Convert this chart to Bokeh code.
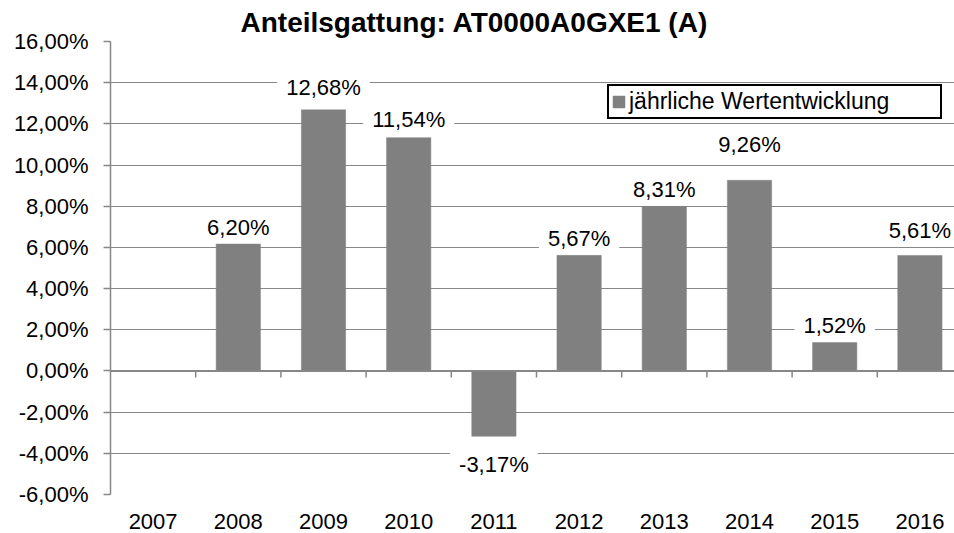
from bokeh.plotting import figure
from bokeh.models import Range1d, FixedTicker, Span, Legend, LegendItem, ColumnDataSource
from bokeh.core.properties import value
from bokeh.embed import file_html
from bokeh.resources import INLINE

# ---------------- data ----------------
years = ["2007", "2008", "2009", "2010", "2011", "2012", "2013", "2014", "2015", "2016"]
bar_values = [None, 6.20, 12.68, 11.33, -3.17, 5.62, 8.00, 9.26, 1.38, 5.61]
label_values = [None, 6.20, 12.68, 11.54, -3.17, 5.67, 8.31, 9.26, 1.52, 5.61]
y_ticks = [-6, -4, -2, 0, 2, 4, 6, 8, 10, 12, 14, 16]
title_text = "Anteilsgattung: AT0000A0GXE1 (A)"
legend_text = "jährliche Wertentwicklung"

# ---------------- style ----------------
W, H = 954, 533
LEFT, TOP, BOTTOM = 110, 41, 39
FONT = "Liberation Sans"
GRID = "#878787"
BAR = "#808080"
label_lift_px = [0, 16, 22, 18, -28, 17, 17, 36, 17, 25]   # label centre distance from bar end

frame_h = H - TOP - BOTTOM
px_per_pct = frame_h / (y_ticks[-1] - y_ticks[0])

idx = list(range(len(years)))

def fmt(v):
    return f"{v:.2f}".replace(".", ",") + "%"

bar_src = ColumnDataSource(dict(
    x=[i for i, v in zip(idx, bar_values) if v is not None],
    top=[v for v in bar_values if v is not None],
))

lab_x, lab_y, lab_t = [], [], []
for i, bv, lv, lift in zip(idx, bar_values, label_values, label_lift_px):
    if lv is None:
        continue
    lab_x.append(i)
    lab_y.append(bv + lift / px_per_pct)
    lab_t.append(fmt(lv))
lab_src = ColumnDataSource(dict(x=lab_x, y=lab_y, text=lab_t))

p = figure(width=W, height=H,
           x_range=Range1d(-0.5, 9.406), y_range=Range1d(y_ticks[0], y_ticks[-1]),
           output_backend="svg", toolbar_location=None,
           min_border_left=LEFT, min_border_right=0,
           min_border_top=TOP, min_border_bottom=BOTTOM)
p.outline_line_color = None
p.background_fill_color = "white"
p.border_fill_color = "white"

# title
p.title.text = title_text
p.title.text_font = FONT
p.title.text_font_style = "bold"
p.title.text_font_size = "28px"
p.title.text_color = "black"
p.title.align = "left"
p.title.offset = 130
p.title.standoff = 7

# grid
p.xgrid.visible = False
p.ygrid.ticker = FixedTicker(ticks=y_ticks)
p.ygrid.grid_line_color = GRID
p.ygrid.grid_line_width = 1

# y axis
ya = p.yaxis[0]
ya.ticker = FixedTicker(ticks=y_ticks)
ya.major_label_overrides = {t: fmt(t) for t in y_ticks}
ya.axis_line_color = GRID
ya.axis_line_width = 1.5
ya.major_tick_out = 7
ya.major_tick_in = 0
ya.major_tick_line_color = GRID
ya.major_tick_line_width = 1.5
ya.minor_tick_line_color = None
ya.major_label_standoff = 15
ya.major_label_text_font = FONT
ya.major_label_text_font_size = "22px"
ya.major_label_text_color = "black"

# x axis (labels only; category axis line drawn at zero)
xa = p.xaxis[0]
xa.ticker = FixedTicker(ticks=idx)
xa.major_label_overrides = {i: y for i, y in zip(idx, years)}
xa.axis_line_color = None
xa.major_tick_line_color = None
xa.minor_tick_line_color = None
xa.major_label_standoff = 13
xa.major_label_text_font = FONT
xa.major_label_text_font_size = "22px"
xa.major_label_text_color = "black"

# bars
bars = p.vbar(x="x", top="top", width=0.52, source=bar_src,
              fill_color=BAR, line_color=BAR, line_width=0.5)

# zero line with category tick marks
p.add_layout(Span(location=0, dimension="width", line_color=GRID, line_width=2))
bounds = [i + 0.5 for i in idx[:-1]]
tick_len = 6.5 / px_per_pct
p.segment(x0=bounds, y0=[0] * len(bounds), x1=bounds, y1=[-tick_len] * len(bounds),
          line_color=GRID, line_width=1.5)

# data labels
p.text(x="x", y="y", text="text", source=lab_src,
       text_align="center", text_baseline="middle",
       text_font=value(FONT), text_font_size=value("22px"), text_color="black",
       background_fill_color="white", padding=(9, 4))

# legend
legend = Legend(items=[LegendItem(label=legend_text, renderers=[bars])],
                location=(497, 375))
legend.border_line_color = "black"
legend.border_line_alpha = 1
legend.border_line_width = 2
legend.background_fill_color = "white"
legend.background_fill_alpha = 1
legend.padding = 2
legend.margin = 0
legend.spacing = 0
legend.glyph_width = 15
legend.glyph_height = 15
legend.label_standoff = 3
legend.label_width = 309
legend.label_text_font = FONT
legend.label_text_font_size = "23px"
legend.label_text_color = "black"
p.add_layout(legend)

open("out.html", "w").write(file_html(p, INLINE))
